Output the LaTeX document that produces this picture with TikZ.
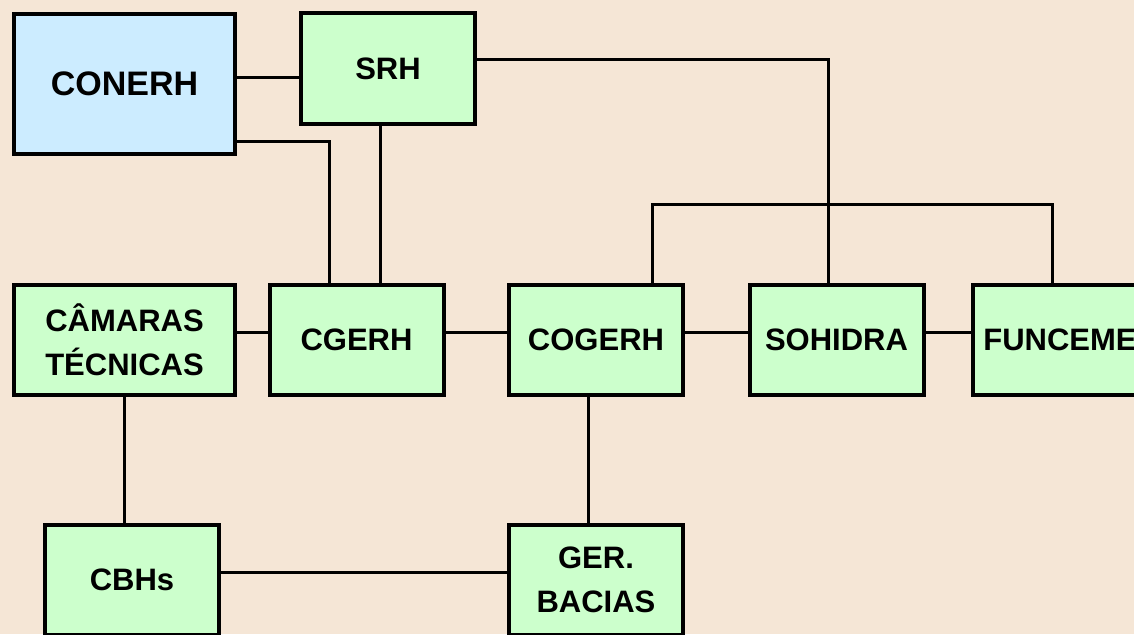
\documentclass[tikz,border=0pt]{standalone}
\usepackage{fontspec}
\setmainfont{Liberation Sans}
\usepackage{tikz}
\definecolor{fundo}{RGB}{245,230,214}
\definecolor{azulclaro}{RGB}{204,236,255}
\definecolor{verdeclaro}{RGB}{204,255,204}

\begin{document}
\begin{tikzpicture}[x=1pt, y=-1pt,
        orgbox/.style={rectangle, draw, line width=4pt, fill=verdeclaro, inner sep=0pt,
            minimum width=174pt, minimum height=110pt, align=center,
            font=\bfseries\fontsize{31}{44}\selectfont},
        liga/.style={line width=3pt}]
        % Organograma
        \useasboundingbox (0,0) rectangle (1134,634);
        \fill[fundo] (0,0) rectangle (1134,634);
        \clip (0,0) rectangle (1134,634);

        \node[orgbox, fill=azulclaro, minimum width=221pt, minimum height=140pt,
            font=\bfseries\fontsize{34}{44}\selectfont] (conerh) at (124.5, 84) {CONERH};
        \node[orgbox] (srh) at (388, 68.5) {SRH};
        \node[orgbox, minimum width=221pt] (camaras) at (124.5, 340) {CÂMARAS\\TÉCNICAS};
        \node[orgbox] (cgerh) at (356.5, 340) {CGERH};
        \node[orgbox] (cogerh) at (596, 340) {COGERH};
        \node[orgbox] (sohidra) at (836.5, 340) {SOHIDRA};
        \node[orgbox] (funceme) at (1060, 340) {FUNCEME};
        \node[orgbox] (cbhs) at (132, 580) {CBHs};
        \node[orgbox] (gerbacias) at (596, 580) {GER.\\BACIAS};
        \coordinate (ramo) at (0, 204);

        \draw[liga] ([yshift=7pt]conerh.east) -- ([yshift=7pt]conerh.east -| srh.west);
        \draw[liga] ([yshift=-57pt]conerh.east) -| ([xshift=-27.5pt]cgerh.north);
        \draw[liga] ([xshift=-8pt]srh.south) -- ([xshift=-8pt]srh.south |- cgerh.north);
        \draw[liga] ([yshift=8.5pt]srh.east) -| ([xshift=-8.5pt]sohidra.north);
        \draw[liga] ([xshift=56pt]cogerh.north) -- ([xshift=56pt]cogerh.north |- ramo)
            -| ([xshift=-8pt]funceme.north);
        \foreach \a/\b in {camaras/cgerh, cgerh/cogerh, cogerh/sohidra, sohidra/funceme}
            \draw[liga] ([yshift=8pt]\a.east) -- ([yshift=8pt]\a.east -| \b.west);
        \draw[liga] (camaras.south) -- (camaras.south |- cbhs.north);
        \draw[liga] ([xshift=-8pt]cogerh.south) -- ([xshift=-8pt]cogerh.south |- gerbacias.north);
        \draw[liga] ([yshift=8pt]cbhs.east) -- ([yshift=8pt]cbhs.east -| gerbacias.west);
    \end{tikzpicture}
\end{document}
